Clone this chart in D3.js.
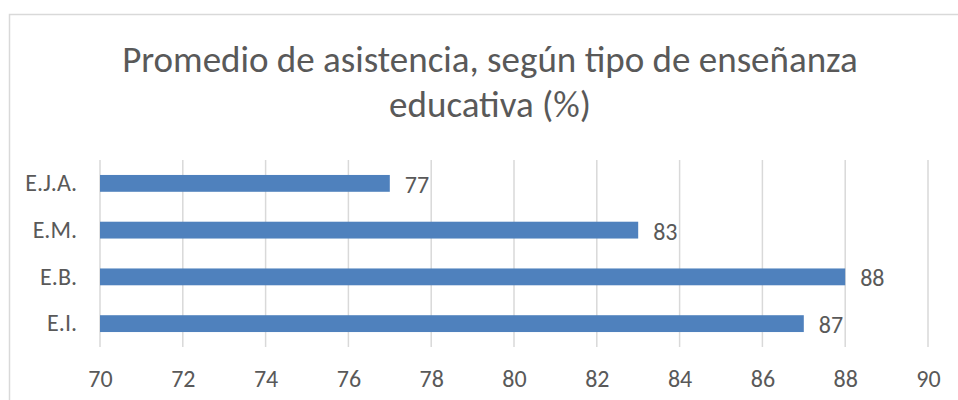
<!DOCTYPE html>
<html>
<head>
<meta charset="utf-8">
<script src="https://cdn.jsdelivr.net/npm/d3@7"></script>
<style>
  body { margin: 0; background: #fff; }
  text { font-family: Carlito, Calibri, "Open Sans", sans-serif; fill: #595959; }
  .grid line { stroke: #d9d9d9; stroke-width: 1.5; }
  .bar { fill: #4f81bd; }
</style>
</head>
<body>
<div id="chart"></div>
<script>
(function(){

  var categories = ['E.J.A.', 'E.M.', 'E.B.', 'E.I.'];
  var values = [77, 83, 88, 87];
  var ticks = [70, 72, 74, 76, 78, 80, 82, 84, 86, 88, 90];
  var title = ['Promedio de asistencia, según tipo de enseñanza', 'educativa (%)'];

  var W = 958, H = 400;
  var margin = { top: 160, right: 30, bottom: 53, left: 100 };
  var width = 928 - margin.left;
  var height = 347 - margin.top;

  var svg = d3.select('#chart')
    .append('svg')
      .attr('width', W)
      .attr('height', H);

  // chart frame (top and left edges show in the crop)
  svg.append('path')
    .attr('d', 'M9.5,' + H + 'V14.5H' + W)
    .attr('fill', 'none')
    .attr('stroke', '#d9d9d9')
    .attr('stroke-width', 1.5);

  svg.append('g')
    .selectAll('text')
    .data(title)
    .enter().append('text')
      .attr('x', 490)
      .attr('y', function(d, i){ return 72 + i * 45; })
      .attr('text-anchor', 'middle')
      .style('font-size', '37px')
      .style('font-weight', 300)
      .text(function(d){ return d; });

  var x = d3.scaleLinear().domain([70, 90]).range([0, width]);
  var y = d3.scaleBand().domain(categories).range([0, height]).paddingInner(0.64).paddingOuter(0.32);

  var g = svg.append('g')
    .attr('transform', 'translate(' + margin.left + ',' + margin.top + ')');

  g.append('g')
    .attr('class', 'grid')
    .selectAll('line')
    .data(ticks)
    .enter().append('line')
      .attr('x1', function(d){ return x(d); })
      .attr('x2', function(d){ return x(d); })
      .attr('y1', 0)
      .attr('y2', height);

  var xAxis = g.append('g')
    .attr('transform', 'translate(0,' + height + ')')
    .call(d3.axisBottom(x).tickValues(ticks).tickSize(0).tickPadding(23));
  xAxis.select('.domain').remove();
  xAxis.selectAll('text').style('font-size', '24px').attr('fill', '#595959');

  var yAxis = g.append('g')
    .call(d3.axisLeft(y).tickSize(0).tickPadding(23));
  yAxis.select('.domain').remove();
  yAxis.selectAll('text').style('font-size', '24px').attr('fill', '#595959');

  g.selectAll('.bar')
    .data(values)
    .enter().append('rect')
      .attr('class', 'bar')
      .attr('x', x(70))
      .attr('y', function(d, i){ return y(categories[i]); })
      .attr('width', function(d){ return x(d) - x(70); })
      .attr('height', y.bandwidth());

  g.selectAll('.label')
    .data(values)
    .enter().append('text')
      .attr('class', 'label')
      .attr('x', function(d){ return x(d) + 15; })
      .attr('y', function(d, i){ return y(categories[i]) + y.bandwidth() / 2 + 1; })
      .attr('dy', '0.35em')
      .style('font-size', '24px')
      .text(function(d){ return d; });

})();
</script>
</body>
</html>
